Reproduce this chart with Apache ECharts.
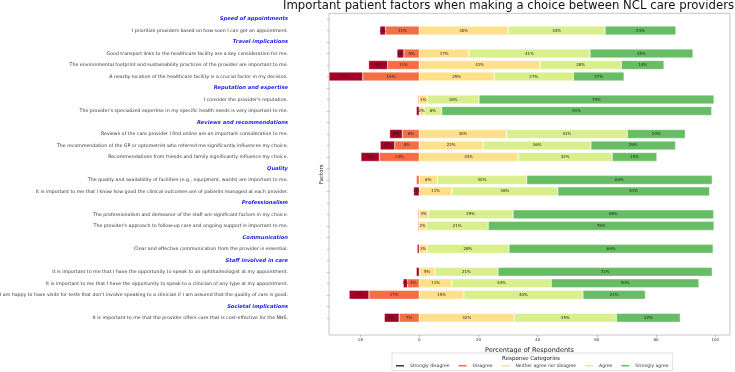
<!DOCTYPE html>
<html>
<head>
<meta charset="utf-8">
<title>Important patient factors</title>
<script src="https://cdn.jsdelivr.net/npm/echarts@6/dist/echarts.min.js"></script>
<style>
  html, body { margin: 0; padding: 0; background: #fff; }
  #chart { width: 735px; height: 372px; }
</style>
</head>
<body>
<div id="chart"></div>
<script>
// 行（小标题行没有数据）
const rows = [
  'Speed of appointments',
  'I prioritize providers based on how soon I can get an appointment.',
  'Travel implications',
  'Good transport links to the healthcare facility are a key consideration for me.',
  'The environmental footprint and sustainability practices of the provider are important to me.',
  'A nearby location of the healthcare facility is a crucial factor in my decision.',
  'Reputation and expertise',
  "I consider the provider's reputation.",
  "The provider's specialized expertise in my specific health needs is very important to me.",
  'Reviews and recommendations',
  'Reviews of the care provider I find online are an important consideration to me.',
  'The recommendation of the GP or optometrist who referred me significantly influences my choice.',
  'Recommendations from friends and family significantly influence my choice.',
  'Quality',
  'The quality and availability of facilities (e.g., equipment, wards) are important to me.',
  'It is important to me that I know how good the clinical outcomes are of patients managed at each provider.',
  'Professionalism',
  'The professionalism and demeanor of the staff are significant factors in my choice.',
  "The provider's approach to follow-up care and ongoing support is important to me.",
  'Communication',
  'Clear and effective communication from the provider is essential.',
  'Staff involved in care',
  'It is important to me that I have the opportunity to speak to an ophthalmologist at my appointment.',
  'It is important to me that I have the opportunity to speak to a clinician of any type at my appointment.',
  "I am happy to have visits for tests that don't involve speaking to a clinician if I am assured that the quality of care is good.",
  'Societal implications',
  'It is important to me that the provider offers care that is cost-effective for the NHS.'
]
const headings = [
  'Speed of appointments', 'Travel implications', 'Reputation and expertise',
  'Reviews and recommendations', 'Quality', 'Professionalism', 'Communication',
  'Staff involved in care', 'Societal implications'
]

const responses = ['Strongly disagree', 'Disagree', 'Neither agree nor disagree', 'Agree', 'Strongly agree']
const colors = ['#a50026', '#f46d43', '#fee08b', '#d9ef8b', '#66bd63']

// 百分比，'-' 为小标题行
const stronglyDisagree = ['-', 1.9, '-', 2.3, 6.4, 11.4, '-', 0, 1.0, '-', 4.3, 4.9, 6.2, '-', 0, 1.9, '-', 0, 0, '-', 0.7, '-', 1.0, 1.4, 6.7, '-', 5.0]
const disagree = ['-', 11.4, '-', 5.2, 10.7, 19.1, '-', 0.4, 0, '-', 5.7, 8.3, 13.5, '-', 1.0, 0, '-', 0.4, 0.4, '-', 0, '-', 0, 4.0, 17.0, '-', 6.8]
const neutral = ['-', 30.0, '-', 16.8, 40.8, 25.3, '-', 2.7, 1.6, '-', 29.5, 21.6, 33.4, '-', 6.1, 11.0, '-', 3.0, 2.3, '-', 2.6, '-', 5.3, 11.0, 15.1, '-', 32.1]
const agree = ['-', 32.8, '-', 40.9, 27.5, 26.8, '-', 17.5, 6.0, '-', 40.8, 36.4, 31.8, '-', 30.2, 35.8, '-', 28.7, 21.0, '-', 27.7, '-', 21.3, 33.6, 40.2, '-', 34.5]
const stronglyAgree = ['-', 23.9, '-', 34.8, 14.4, 17.1, '-', 79.4, 91.2, '-', 19.6, 28.6, 15.1, '-', 62.7, 51.3, '-', 67.8, 76.3, '-', 69.0, '-', 72.4, 49.9, 21.1, '-', 21.6]

const xTicks = [-20, 0, 20, 40, 60, 80, 100]

// 不同意放在0的左边
const neg = arr => arr.map(v => (typeof v === 'number' && v > 0 ? -v : '-'))
const pos = arr => arr.map(v => (typeof v === 'number' && v > 0 ? v : '-'))

function makeSeries (name, data, color) {
  return {
    name: name,
    type: 'bar',
    stack: 'total',
    barWidth: '78%',
    data: data,
    itemStyle: { color: color, borderColor: '#fff', borderWidth: 0.4 },
    label: {
      show: true,
      position: 'inside',
      fontSize: 4,
      color: '#222',
      formatter: p => (typeof p.value === 'number' && Math.abs(p.value) > 1 ? Math.round(Math.abs(p.value)) + '%' : '')
    }
  }
}

const chart = echarts.init(document.getElementById('chart'))
const option = {
  animation: false,
  textStyle: { fontFamily: 'DejaVu Sans' },
  title: [
    {
      text: 'Important patient factors when making a choice between NCL care providers',
      left: 283,
      top: 0,
      padding: 0,
      textStyle: { fontSize: 11.7, fontWeight: 'normal', color: '#111' }
    },
    {
      text: 'Response Categories',
      left: 531,
      top: 355.5,
      padding: 0,
      textAlign: 'center',
      textStyle: { fontSize: 5.5, fontWeight: 'normal', color: '#222' }
    }
  ],
  legend: {
    data: responses,
    left: 392,
    top: 353,
    padding: [10, 4, 2, 2],
    borderColor: '#ccc',
    borderWidth: 0.6,
    icon: 'rect',
    itemWidth: 10,
    itemHeight: 3.5,
    itemGap: 7,
    textStyle: { fontSize: 4.5, color: '#333' }
  },
  grid: {
    left: 329,
    right: 5,
    top: 13.3,
    bottom: 37,
    show: true,
    borderColor: '#b5b5b5',
    borderWidth: 0.8,
    outerBoundsMode: 'none'
  },
  xAxis: {
    type: 'value',
    min: -30.5,
    max: 105,
    name: 'Percentage of Respondents',
    nameLocation: 'middle',
    nameGap: 6,
    nameTextStyle: { fontSize: 6.5, color: '#222' },
    axisLine: { show: false, onZero: false },
    splitLine: { show: false },
    axisTick: { show: true, length: 2, customValues: xTicks, lineStyle: { color: '#999', width: 0.6 } },
    axisLabel: { fontSize: 4, color: '#333', margin: 2.5, customValues: xTicks }
  },
  yAxis: {
    type: 'category',
    data: rows,
    inverse: true,
    max: rows.length, // 底部多留一格空白
    name: 'Factors',
    nameLocation: 'middle',
    nameRotate: 90,
    nameGap: 4,
    nameMoveOverlap: false,
    nameTextStyle: { fontSize: 5.5, color: '#222' },
    axisLine: { show: false, onZero: false },
    axisTick: {
      show: true,
      alignWithLabel: true,
      length: 2,
      interval: (i) => i < rows.length,
      lineStyle: { color: '#999', width: 0.6 }
    },
    axisLabel: {
      interval: 0,
      margin: 41,
      fontSize: 4.7,
      color: '#333',
      formatter: v => {
        if (v == null || v === 'undefined') return ''
        return headings.includes(v) ? '{h|' + v + '}' : v
      },
      rich: {
        h: { fontSize: 5.2, fontWeight: 'bold', fontStyle: 'italic', color: '#1a1ae6' }
      }
    }
  },
  series: [
    makeSeries('Disagree', neg(disagree), colors[1]),
    makeSeries('Strongly disagree', neg(stronglyDisagree), colors[0]),
    makeSeries('Neither agree nor disagree', pos(neutral), colors[2]),
    makeSeries('Agree', pos(agree), colors[3]),
    makeSeries('Strongly agree', pos(stronglyAgree), colors[4])
  ]
}
chart.setOption(option)
window.addEventListener('resize', () => chart.resize())
</script>
</body>
</html>
